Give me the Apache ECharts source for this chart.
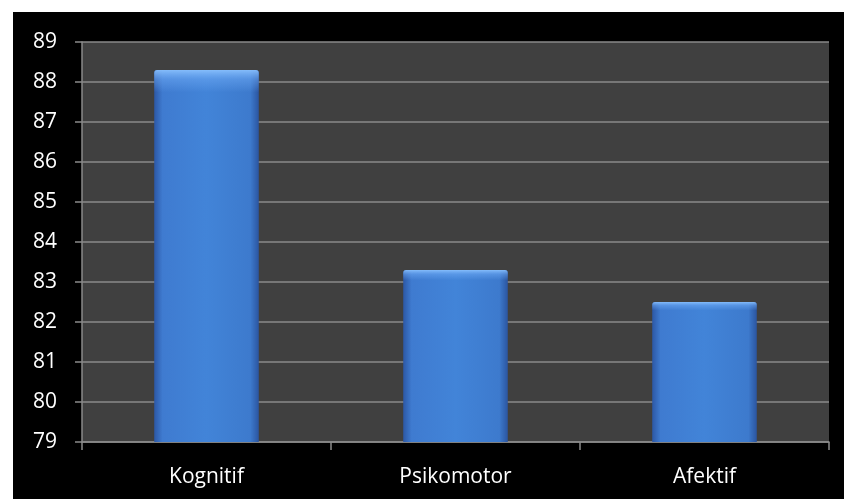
<!DOCTYPE html>
<html>
<head>
<meta charset="utf-8">
<script src="https://cdn.jsdelivr.net/npm/echarts@6/dist/echarts.min.js"></script>
<style>
  html, body { margin: 0; padding: 0; background: #fff; }
  #main { position: absolute; left: 13px; top: 12px; width: 831px; height: 487px; background: #000; }
</style>
</head>
<body>
<div id="main"></div>
<script>
// data
const categories = ["Kognitif", "Psikomotor", "Afektif"];
const values = [88.3, 83.3, 82.5];

const chart = echarts.init(document.getElementById("main"));

chart.setOption({
  backgroundColor: "#000",
  animation: false,
  grid: {
    left: 69,
    right: 15,
    top: 30,
    bottom: 57,
    show: true,
    backgroundColor: "#404040",
    borderWidth: 0,
  },
  xAxis: {
    type: "category",
    data: categories,
    axisLine: { lineStyle: { color: "#8a8a8a", width: 1.5 } },
    axisTick: { show: true, length: 8, lineStyle: { color: "#8a8a8a", width: 1.5 } },
    axisLabel: { color: "#fff", fontSize: 21, fontFamily: "Open Sans", margin: 25 },
  },
  yAxis: {
    type: "value",
    min: 79,
    max: 89,
    interval: 1,
    axisLine: { show: true, lineStyle: { color: "#8a8a8a", width: 1.5 } },
    axisTick: { show: true, length: 7, lineStyle: { color: "#8a8a8a", width: 1.5 } },
    axisLabel: { color: "#fff", fontSize: 21, fontFamily: "Open Sans", margin: 25 },
    splitLine: { lineStyle: { color: "#8a8a8a", width: 1.5 } },
  },
  series: [
    {
      type: "bar",
      data: values,
      barWidth: "42%",
      itemStyle: {
        color: new echarts.graphic.LinearGradient(0, 0, 1, 0, [
          { offset: 0, color: "#2c58a6" },
          { offset: 0.08, color: "#3f7bd0" },
          { offset: 0.5, color: "#4284d8" },
          { offset: 0.92, color: "#3d7acd" },
          { offset: 1, color: "#2b55a0" },
        ]),
        borderRadius: [3, 3, 0, 0],
      },
    },
    {
      // light bevel along the top of each bar
      type: "bar",
      data: values,
      barWidth: "42%",
      barGap: "-100%",
      silent: true,
      z: 3,
      itemStyle: {
        color: new echarts.graphic.LinearGradient(0, 0, 0, 1, [
          { offset: 0, color: "rgba(140,195,255,0.9)" },
          { offset: 0.025, color: "rgba(110,170,245,0.5)" },
          { offset: 0.06, color: "rgba(110,170,245,0)" },
          { offset: 1, color: "rgba(110,170,245,0)" },
        ]),
        borderRadius: [3, 3, 0, 0],
      },
    },
  ],
});
</script>
</body>
</html>
